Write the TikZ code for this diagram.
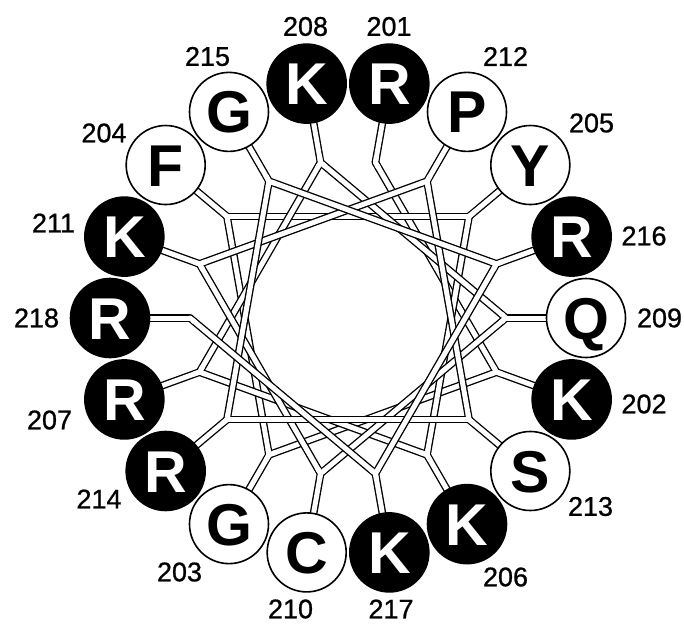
\documentclass[tikz,border=0pt]{standalone}
\usepackage{fontspec}
\setmainfont{Liberation Sans}
\newfontfamily\numfont[FakeBold=0.8]{Liberation Sans}
\usetikzlibrary{calc}
\pgfdeclarelayer{bg}
\pgfsetlayers{bg,main}
\begin{document}
\begin{tikzpicture}[x=1pt,y=1pt,
  tube/.style={draw=black,line width=1.35pt,double=white,double distance=5pt,line cap=round},
  wline/.style={draw=white,line width=5pt,line cap=round},
  res/.style={circle,draw=black,line width=1.6pt,minimum size=79pt,inner sep=0pt,
     font=\fontsize{59}{59}\selectfont\bfseries,text height=42.2pt,text depth=0pt},
  num/.style={font=\numfont\fontsize{27}{27}\selectfont,inner sep=0pt}]
\useasboundingbox (0,0) rectangle (684,-625);
\coordinate (C) at (348,-318);
\foreach \n/\l/\f/\tc/\lx/\ly [count=\i from 0] in {
 201/R/black/white/389/26.5,
 202/K/black/white/644/404,
 203/G/white/black/179.5/572,
 204/F/white/black/104/133,
 205/Y/white/black/591.5/123,
 206/K/black/white/505.5/577,
 207/R/black/white/49.5/420,
 208/K/black/white/305.5/26.5,
 209/Q/white/black/659.5/318,
 210/C/white/black/290.5/609,
 211/K/black/white/53.5/223,
 212/P/white/black/505.5/56.5,
 213/S/white/black/590.5/506.5,
 214/R/black/white/99/499,
 215/G/white/black/207.5/56.5,
 216/R/black/white/644/236,
 217/K/black/white/391/609,
 218/R/black/white/36.5/318} {
  \pgfmathsetmacro\ang{80-100*\i}
  \node[res,fill=\f,text=\tc] (n\n) at ($(C)+(\ang:238)$) {\l};
  \coordinate (p\n) at ($(C)+(\ang:158)$);
  \node[num] (t\n) at (\lx,-\ly) {\n};
}
\begin{pgfonlayer}{bg}
\foreach \n [evaluate=\n as \m using int(\n+1)] in {201,...,217} \draw[tube] (p\n) -- (p\m);
\foreach \n in {201,...,218} \draw[tube] (n\n.center) -- (p\n);
\foreach \n [evaluate=\n as \m using int(\n+1)] in {201,...,217} {
  \draw[wline] (p\n) -- ($(p\n)!6pt!(p\m)$);
  \draw[wline] (p\m) -- ($(p\m)!6pt!(p\n)$);
}
\foreach \n in {201,...,218} \draw[wline] (p\n) -- ($(p\n)!6pt!(n\n.center)$);
\end{pgfonlayer}
\end{tikzpicture}
\end{document}
